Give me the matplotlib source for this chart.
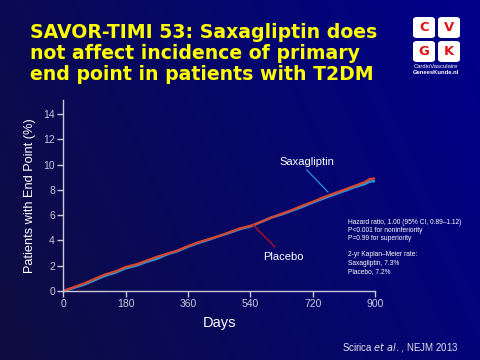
import numpy as np
import matplotlib
matplotlib.use("Agg")
import matplotlib.pyplot as plt
from matplotlib.patches import FancyBboxPatch

# Kaplan-Meier curves (days, % with end point)
days = [0, 30, 60, 90, 120, 150, 180, 210, 240, 270, 300, 330, 360, 390, 420,
        450, 480, 510, 540, 570, 600, 630, 660, 690, 720, 750, 780, 810, 840,
        870, 885, 900]
placebo = [0, 0.3, 0.6, 0.95, 1.3, 1.55, 1.9, 2.1, 2.4, 2.7, 2.95, 3.2, 3.55,
           3.85, 4.1, 4.35, 4.65, 4.95, 5.15, 5.45, 5.8, 6.1, 6.4, 6.75, 7.05,
           7.4, 7.7, 8.0, 8.3, 8.6, 8.85, 8.9]
saxagliptin = [0, 0.25, 0.5, 0.85, 1.2, 1.45, 1.8, 2.0, 2.3, 2.55, 2.9, 3.15,
               3.5, 3.8, 4.05, 4.35, 4.6, 4.9, 5.1, 5.45, 5.8, 6.05, 6.35, 6.65,
               7.0, 7.3, 7.6, 7.9, 8.2, 8.45, 8.65, 8.7]
xticks = [0, 180, 360, 540, 720, 900]
yticks = [0, 2, 4, 6, 8, 10, 12, 14]

title = "SAVOR-TIMI 53: Saxagliptin does\nnot affect incidence of primary\nend point in patients with T2DM"
stats_lines = ["Hazard ratio, 1.00 (95% CI, 0.89\u20131.12)",
               "P<0.001 for noninferiority",
               "P=0.99 for superiority"]
km_lines = ["2-yr Kaplan\u2013Meier rate:",
            "Saxagliptin, 7.3%",
            "Placebo, 7.2%"]

RED = "#d9472b"
BLUE = "#2b92d6"
GREY = "#c8c8dc"

fig = plt.figure(figsize=(4.8, 3.6), dpi=100)

# slide background gradient
bg = fig.add_axes([0, 0, 1, 1], zorder=-10)
gx, gy = np.meshgrid(np.linspace(0, 1, 200), np.linspace(0, 1, 150))
t = np.clip(0.75 * gx + 0.25 * (1 - gy), 0, 1)
c0 = np.array([14, 14, 64]) / 255
c1 = np.array([0, 0, 140]) / 255
img = c0[None, None, :] * (1 - t[..., None]) + c1[None, None, :] * t[..., None]
bg.imshow(img, aspect="auto", extent=[0, 1, 0, 1], origin="upper")
bg.set_xlim(0, 1)
bg.set_ylim(0, 1)
bg.axis("off")

fig.text(0.062, 0.935, title, color="#ffff00", fontsize=13.6, fontweight="bold",
         family="DejaVu Sans", va="top", ha="left", linespacing=1.13)

# CVGK logo
for (x, y, ch) in [(413, 17, "C"), (438, 17, "V"), (413, 41, "G"), (438, 41, "K")]:
    fig.patches.append(FancyBboxPatch((x / 480, 1 - (y + 21) / 360), 22 / 480, 21 / 360,
                                      boxstyle="round,pad=0,rounding_size=0.008",
                                      transform=fig.transFigure, facecolor="white",
                                      edgecolor="none"))
    fig.text((x + 11) / 480, 1 - (y + 10.5) / 360, ch, color="#e01414", fontsize=9.5,
             fontweight="bold", ha="center", va="center", family="DejaVu Sans")
fig.text(436 / 480, 1 - 66 / 360, "CardioVasculaire", color="white", fontsize=4.2,
         ha="center", va="center", family="Liberation Sans")
fig.text(436 / 480, 1 - 73 / 360, "GeneesKunde.nl", color="white", fontsize=4.2,
         ha="center", va="center", family="Liberation Sans", fontweight="bold")

ax = fig.add_axes([63.3 / 480, 69 / 360, 311.7 / 480, 191 / 360])
ax.patch.set_alpha(0)
ax.plot(days, saxagliptin, color=BLUE, lw=1.8)
ax.plot(days, placebo, color=RED, lw=1.6)
ax.set_xlim(0, 900)
ax.set_ylim(0, 15.1)
ax.set_xticks(xticks)
ax.set_yticks(yticks)
for s in ["top", "right"]:
    ax.spines[s].set_visible(False)
for s in ["left", "bottom"]:
    ax.spines[s].set_color(GREY)
    ax.spines[s].set_linewidth(1)
ax.tick_params(colors=GREY, labelsize=7.5, length=4, width=1, pad=2)
for lab in ax.get_xticklabels() + ax.get_yticklabels():
    lab.set_family("Liberation Sans")
ax.set_xlabel("Days", color="white", fontsize=10.5, family="Liberation Sans", labelpad=5)
ax.set_ylabel("Patients with End Point (%)", color="white", fontsize=9.2,
              family="Liberation Sans", labelpad=5)

# curve labels with pointer lines
ax.text(702, 10.2, "Saxagliptin", color="white", fontsize=8,
        family="Liberation Sans", ha="center", va="center")
ax.plot([703, 764], [9.57, 7.83], color=BLUE, lw=0.9)
ax.text(577, 2.69, "Placebo", color="white", fontsize=8,
        family="Liberation Sans", ha="left", va="center")
ax.plot([611, 548], [3.48, 5.22], color="#c01020", lw=0.9)

for i, line in enumerate(stats_lines):
    fig.text(348 / 480, 1 - (222 + 8.3 * i) / 360, line, color="white", fontsize=4.8,
             family="Liberation Sans", va="center", ha="left")
for i, line in enumerate(km_lines):
    fig.text(348 / 480, 1 - (255 + 8.3 * i) / 360, line, color="white", fontsize=4.8,
             family="Liberation Sans", va="center", ha="left")

fig.text(0.955, 1 - 347 / 360, r"Scirica $\it{et\ al.}$, NEJM 2013", color="#e0e0f0",
         fontsize=7, family="Liberation Sans", ha="right", va="center")

fig.savefig("out.png", dpi=100)
